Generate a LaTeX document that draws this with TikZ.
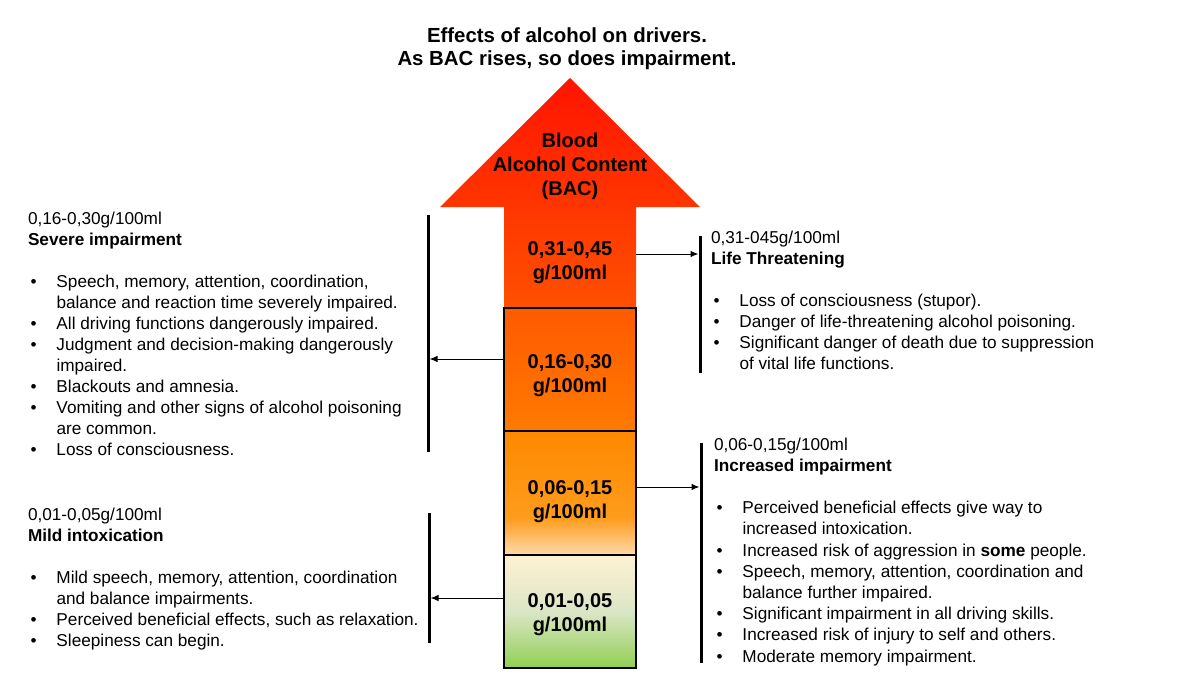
\documentclass[tikz,border=0pt]{standalone}
\usepackage{fontspec}
\setmainfont{Liberation Sans}
\usetikzlibrary{arrows.meta}
\definecolor{arrTop}{HTML}{FF1400}
\definecolor{arrBot}{HTML}{FF5000}
\definecolor{bTop}{HTML}{FF5A00}
\definecolor{bBot}{HTML}{FF7A00}
\definecolor{cTop}{HTML}{FF8800}
\definecolor{cMid}{HTML}{FF9C1C}
\definecolor{cBot}{HTML}{FFDAAA}
\definecolor{dTop}{HTML}{FFF1D4}
\definecolor{dMid}{HTML}{DAE6C6}
\definecolor{dBot}{HTML}{92CF52}
\pgfdeclareverticalshading{boxC}{100bp}{color(0bp)=(cBot); color(25bp)=(cBot); color(40bp)=(cMid); color(75bp)=(cTop); color(100bp)=(cTop)}
\pgfdeclareverticalshading{boxD}{100bp}{color(0bp)=(dBot); color(25bp)=(dBot); color(50bp)=(dMid); color(75bp)=(dTop); color(100bp)=(dTop)}
\newcommand\bul{\hbox to 28.5pt{\hskip2.5pt\textbullet\hss}}
\newcommand\ind{\hskip28.5pt}
\newcommand\blk[2]{\vtop{\fontsize{17.2}{#1}\selectfont #2}}
\newcommand\ctr[1]{\hbox to 300pt{\hss#1\hss}}
\tikzset{
  txt/.style={anchor=base west, inner sep=0pt, outer sep=0pt},
  lbl/.style={anchor=base, inner sep=0pt, outer sep=0pt},
  box/.style={draw=black, line width=2.2pt, minimum width=132pt, inner sep=0pt, outer sep=0pt},
  bar/.style={line width=3pt, black},
  conn/.style={line width=1pt, black, -{Latex[length=8pt,width=6.5pt]}, shorten >=1.5pt}
}
\begin{document}
\begin{tikzpicture}[x=1pt,y=-1pt]
\useasboundingbox (0,0) rectangle (1200,675);
\fill[white] (0,0) rectangle (1200,675);

% title
\node[lbl] (title) at (567,42) {\vtop{\fontsize{20.4}{23}\selectfont\bfseries
  \ctr{Effects of alcohol on drivers.}
  \ctr{As BAC rises, so does impairment.}}};

% arrow head + top segment
\path[top color=arrTop, bottom color=arrBot]
  (504,308) -- (504,207) -- (440,207) -- (570,78) -- (700,207) -- (636,207) -- (636,308) -- cycle;
\coordinate (shaftR) at (636,254);

% boxes
\node[box, minimum height=123pt, top color=bTop, bottom color=bBot] (box2) at (570,369.5) {};
\node[box, minimum height=124pt, shading=boxC] (box3) at (570,493) {};
\node[box, minimum height=113pt, shading=boxD] (box4) at (570,611.5) {};

% labels in arrow
\node[lbl] (bac) at (570,147) {\vtop{\fontsize{20}{24}\selectfont\bfseries
  \ctr{Blood}\ctr{Alcohol Content}\ctr{(BAC)}}};
\node[lbl] (s1) at (570,255) {\vtop{\fontsize{20}{24}\selectfont\bfseries
  \ctr{0,31-0,45}\ctr{g/100ml}}};
\node[lbl] (s2) at (570,368) {\vtop{\fontsize{20}{24}\selectfont\bfseries
  \ctr{0,16-0,30}\ctr{g/100ml}}};
\node[lbl] (s3) at (570,494) {\vtop{\fontsize{20}{24}\selectfont\bfseries
  \ctr{0,06-0,15}\ctr{g/100ml}}};
\node[lbl] (s4) at (570,607) {\vtop{\fontsize{20}{24}\selectfont\bfseries
  \ctr{0,01-0,05}\ctr{g/100ml}}};

% bars
\coordinate (L1t) at (428,215); \coordinate (L1b) at (428,452);
\coordinate (L2t) at (429,513); \coordinate (L2b) at (429,643);
\coordinate (R1t) at (700,236); \coordinate (R1b) at (700,373);
\coordinate (R2t) at (701,443); \coordinate (R2b) at (701,663);
\draw[bar] (L1t) -- (L1b);
\draw[bar] (L2t) -- (L2b);
\draw[bar] (R1t) -- (R1b);
\draw[bar] (R2t) -- (R2b);

% connectors
\coordinate (L1a) at (428,359);
\coordinate (L2a) at (429,598);
\coordinate (R1a) at (700,254);
\coordinate (R2a) at (701,487);
\draw[conn] (box2.west |- L1a) -- (L1a);
\draw[conn] (box4.west |- L2a) -- (L2a);
\draw[conn] (shaftR) -- (R1a);
\draw[conn] (box3.east |- R2a) -- (R2a);

% text blocks
\node[txt] (severe) at (28,224) {\blk{21}{%
  \hbox{0,16-0,30g/100ml}
  \hbox{\bfseries Severe impairment}
  \hbox{}
  \hbox{\bul Speech, memory, attention, coordination,}
  \hbox{\ind balance and reaction time severely impaired.}
  \hbox{\bul All driving functions dangerously impaired.}
  \hbox{\bul Judgment and decision-making dangerously}
  \hbox{\ind impaired.}
  \hbox{\bul Blackouts and amnesia.}
  \hbox{\bul Vomiting and other signs of alcohol poisoning}
  \hbox{\ind are common.}
  \hbox{\bul Loss of consciousness.}}};

\node[txt] (mild) at (28,520) {\blk{21}{%
  \hbox{0,01-0,05g/100ml}
  \hbox{\bfseries Mild intoxication}
  \hbox{}
  \hbox{\bul Mild speech, memory, attention, coordination}
  \hbox{\ind and balance impairments.}
  \hbox{\bul Perceived beneficial effects, such as relaxation.}
  \hbox{\bul Sleepiness can begin.}}};

\node[txt] (life) at (711,243) {\blk{21}{%
  \hbox{0,31-045g/100ml}
  \hbox{\bfseries Life Threatening}
  \hbox{}
  \hbox{\bul Loss of consciousness (stupor).}
  \hbox{\bul Danger of life-threatening alcohol poisoning.}
  \hbox{\bul Significant danger of death due to suppression}
  \hbox{\ind of vital life functions.}}};

\node[txt] (incr) at (714,450) {\blk{21.2}{%
  \hbox{0,06-0,15g/100ml}
  \hbox{\bfseries Increased impairment}
  \hbox{}
  \hbox{\bul Perceived beneficial effects give way to}
  \hbox{\ind increased intoxication.}
  \hbox{\bul Increased risk of aggression in \textbf{some} people.}
  \hbox{\bul Speech, memory, attention, coordination and}
  \hbox{\ind balance further impaired.}
  \hbox{\bul Significant impairment in all driving skills.}
  \hbox{\bul Increased risk of injury to self and others.}
  \hbox{\bul Moderate memory impairment.}}};
\end{tikzpicture}
\end{document}
